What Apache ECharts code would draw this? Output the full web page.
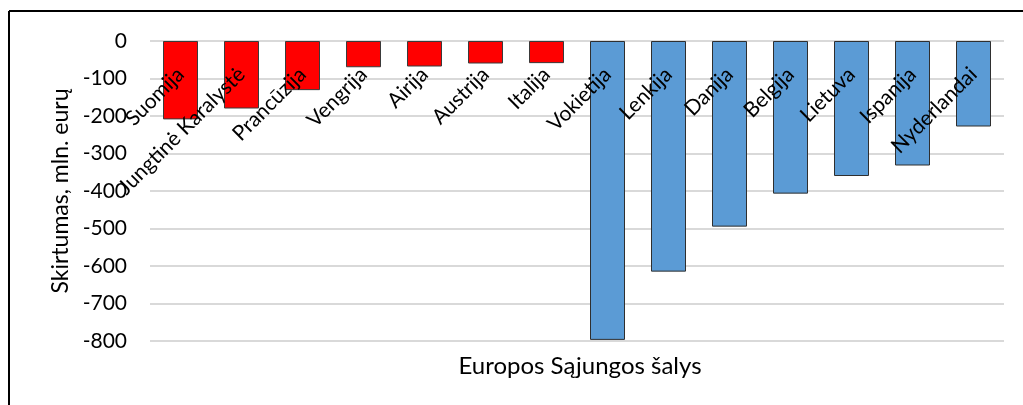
<!DOCTYPE html>
<html>
<head>
<meta charset="utf-8">
<script src="https://cdn.jsdelivr.net/npm/echarts@6/dist/echarts.min.js"></script>
<style>
html,body{margin:0;padding:0;background:#fff;}
#chart{width:1023px;height:405px;}
</style>
</head>
<body>
<div id="chart"></div>
<script>
const countries = ['Suomija','Jungtinė Karalystė','Prancūzija','Vengrija','Airija','Austrija','Italija','Vokietija','Lenkija','Danija','Belgija','Lietuva','Ispanija','Nyderlandai'];
const redValues  = [-209,-180,-131,-70,-68,-60,-59,null,null,null,null,null,null,null];
const blueValues = [null,null,null,null,null,null,null,-797,-615,-495,-407,-360,-332,-228];
const yTicks = [0,-100,-200,-300,-400,-500,-600,-700,-800];
const yAxisName = 'Skirtumas, mln. eurų';
const xAxisName = 'Europos Sąjungos šalys';

const FONT = 'Lato';
const chart = echarts.init(document.getElementById('chart'), null, {renderer:'canvas'});
chart.setOption({
  animation:false,
  backgroundColor:'#fff',
  title:{
    text:xAxisName, left:575, top:349, textAlign:'center',
    textStyle:{fontFamily:FONT, fontSize:24, fontWeight:'normal', color:'#000'}
  },
  grid:{left:150, right:19, top:41, bottom:64, containLabel:false},
  xAxis:{
    type:'category', data:countries, position:'top',
    axisLine:{show:false}, axisTick:{show:false},
    axisLabel:{inside:true, rotate:45, margin:30, interval:0,
      fontFamily:FONT, fontSize:21, color:'#000'},
    z:10
  },
  yAxis:{
    type:'value', min:-800, max:0, interval:100,
    name:yAxisName, nameLocation:'middle', nameGap:74,
    nameTextStyle:{fontFamily:FONT, fontSize:23, color:'#000'},
    axisLine:{show:false}, axisTick:{show:false},
    axisLabel:{fontFamily:FONT, fontSize:21, color:'#000', margin:23,
      formatter:function(v){ return yTicks.indexOf(v) >= 0 ? String(v) : ''; }},
    splitLine:{lineStyle:{color:'#d9d9d9', width:2}}
  },
  series:[
    {type:'bar', stack:'a', data:redValues, barWidth:35,
     itemStyle:{color:'#ff0000', borderColor:'#3a3a3a', borderWidth:1}},
    {type:'bar', stack:'a', data:blueValues, barWidth:35,
     itemStyle:{color:'#5b9bd5', borderColor:'#2f2f2f', borderWidth:1}}
  ],
  graphic:[
    {type:'line', shape:{x1:9, y1:11, x2:1023, y2:11}, style:{stroke:'#000', lineWidth:2}},
    {type:'line', shape:{x1:9, y1:11, x2:9, y2:405}, style:{stroke:'#000', lineWidth:2}}
  ]
});
</script>
</body>
</html>
